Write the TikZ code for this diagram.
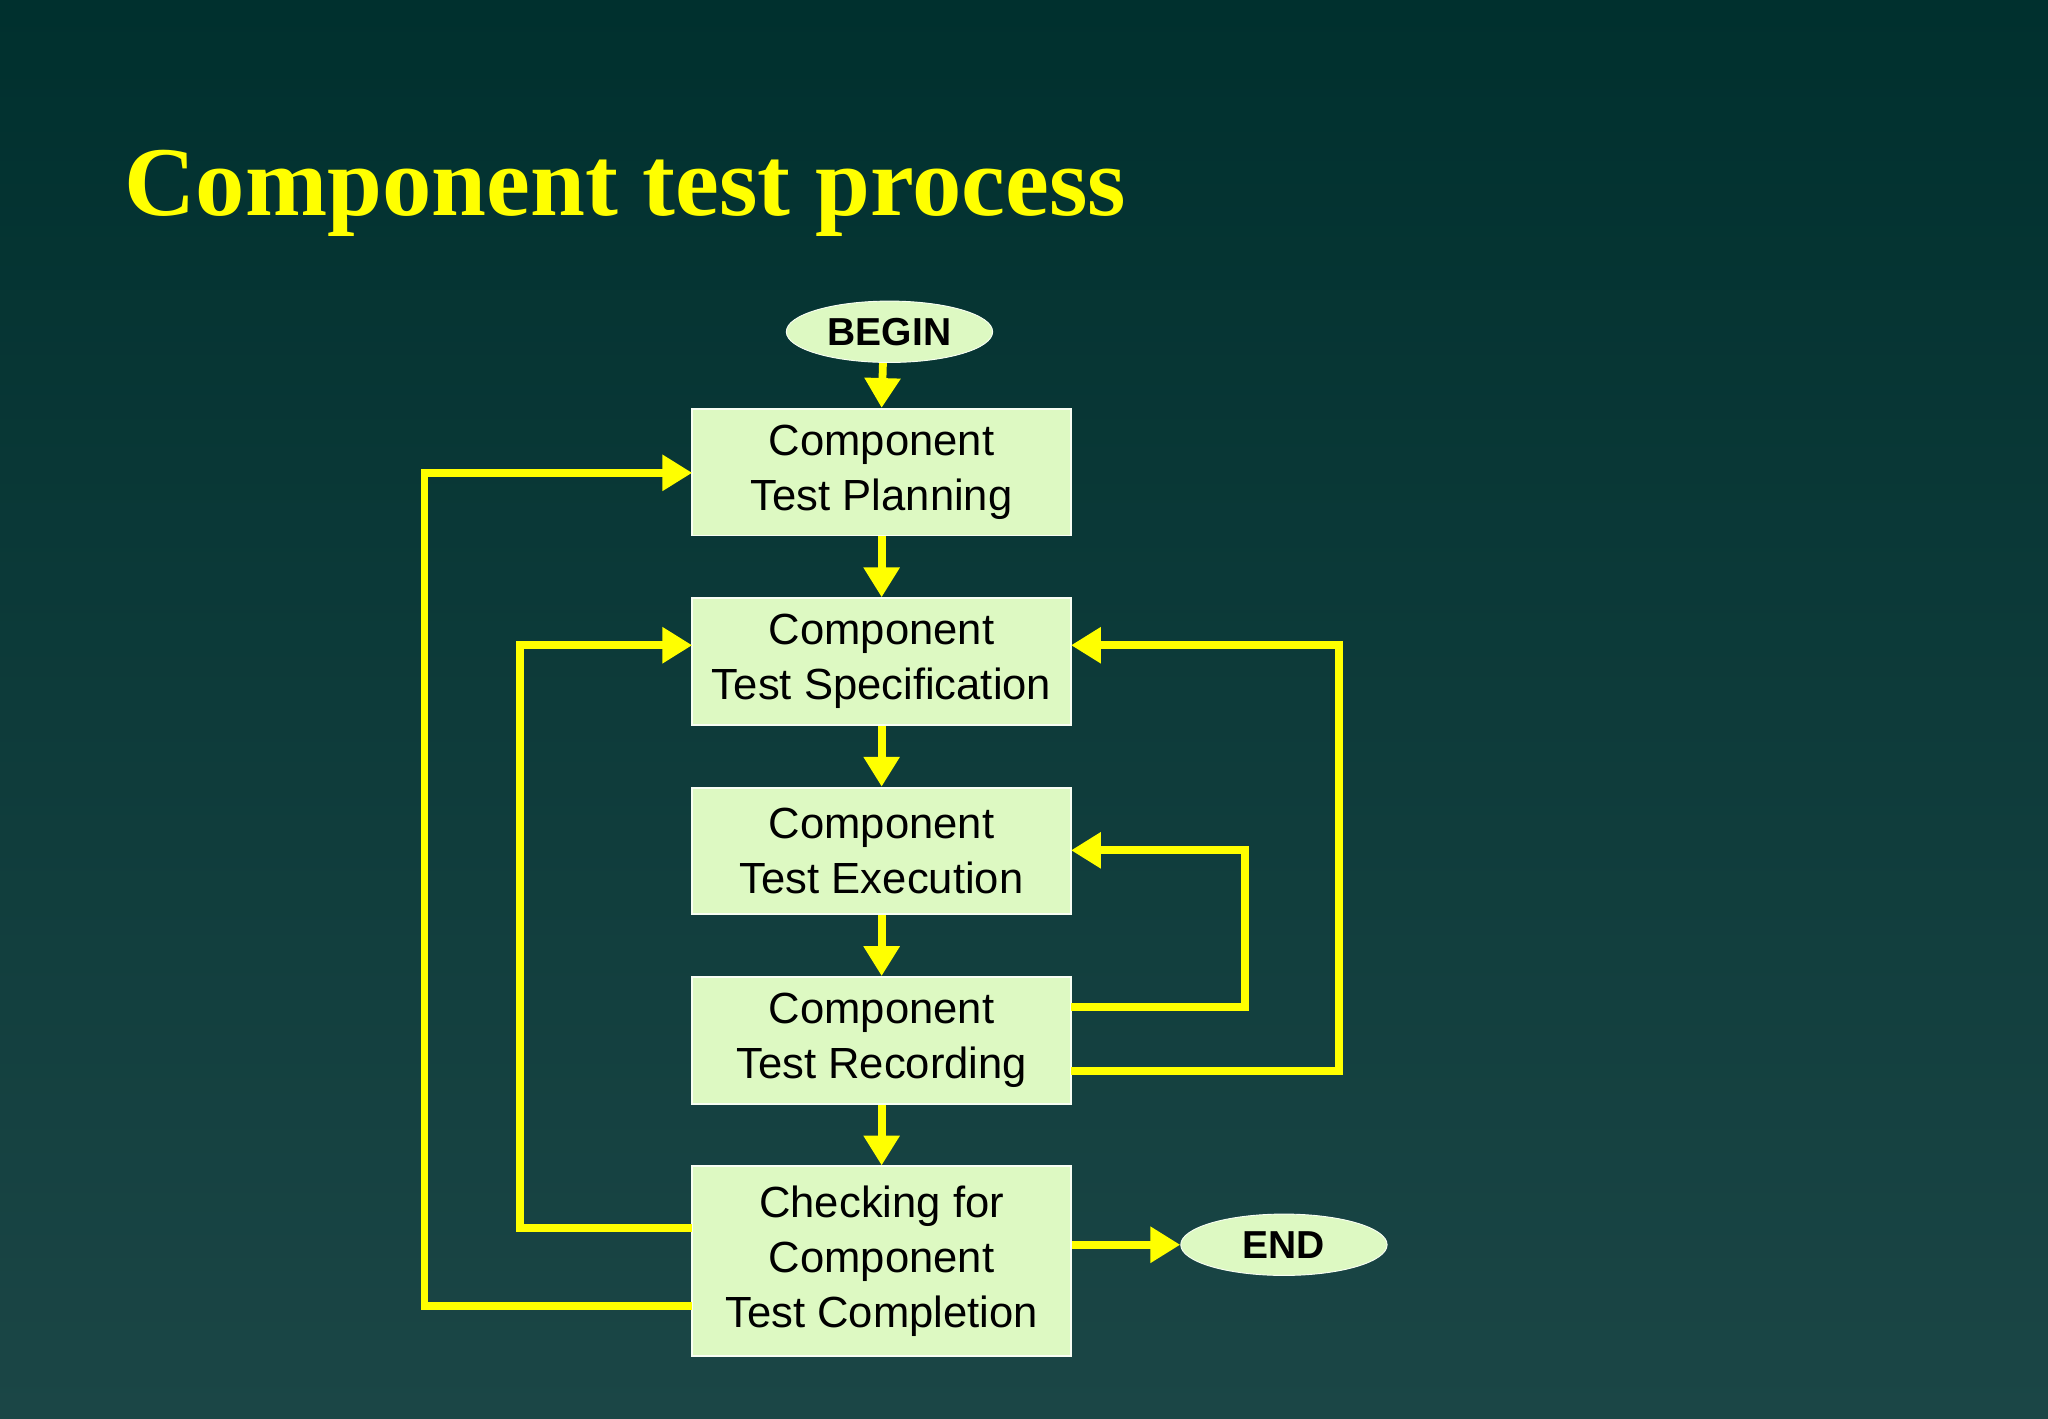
\documentclass[tikz,border=0pt]{standalone}
\usepackage{fontspec}
\setmainfont{Liberation Sans}
\newfontfamily\titlefont{Liberation Serif}
\usetikzlibrary{shapes.geometric,arrows.meta}
\definecolor{boxfill}{HTML}{DDF9C2}
\definecolor{ylw}{HTML}{FFFF00}
\begin{document}
\begin{tikzpicture}[x=0.02cm,y=-0.02cm,
  box/.style={draw=white!80!boxfill,line width=0.8pt,fill=boxfill,minimum width=290*0.02cm,align=center,font=\fontsize{19}{24}\selectfont,inner sep=0pt},
  term/.style={ellipse,draw=white!80!boxfill,fill=boxfill,minimum width=158*0.02cm,minimum height=47*0.02cm,inner sep=0pt,font=\bfseries\fontsize{17}{20}\selectfont},
  link/.style={draw=ylw,line width=3.4pt,-{Triangle[length=13pt,width=15pt]}},
  loop/.style={link,rounded corners=0pt}]
\shade[top color={rgb,255:red,0;green,48;blue,46},bottom color={rgb,255:red,27;green,70;blue,70}] (0,0) rectangle (1568,1086);
\useasboundingbox (0,0) rectangle (1568,1086);
\node[anchor=base west,text=ylw,font=\titlefont\bfseries\fontsize{43}{48}\selectfont,inner sep=0pt] (title) at (95,165) {Component test process};
\node[term] (begin) at (681,254) {BEGIN};
\node[box,minimum height=97*0.02cm] (b1) at (675,361.5) {Component\\Test Planning};
\node[box,minimum height=97*0.02cm] (b2) at (675,506.5) {Component\\Test Specification};
\node[box,minimum height=97*0.02cm] (b3) at (675,651.5) {Component\\Test Execution};
\node[box,minimum height=97*0.02cm] (b4) at (675,796.5) {Component\\Test Recording};
\node[box,minimum height=145*0.02cm] (b5) at (675,965.5) {Checking for\\Component\\Test Completion};
\node[term] (end) at (983,953) {END};
\draw[link] (676,278) -- (b1.north);
\draw[link] (b1) -- (b2);
\draw[link] (b2) -- (b3);
\draw[link] (b3) -- (b4);
\draw[link] (b4) -- (b5);
\draw[link] (b5.east |- end) -- (end);
\coordinate (l1a) at (530,1000); \coordinate (l1b) at (530,362);
\draw[loop] (l1a) -- (325,1000) -- (325,362) -- (l1b);
\coordinate (l2a) at (530,940); \coordinate (l2b) at (530,494);
\draw[loop] (l2a) -- (398,940) -- (398,494) -- (l2b);
\coordinate (r1a) at (820,820); \coordinate (r1b) at (820,494);
\draw[loop] (r1a) -- (1025,820) -- (1025,494) -- (r1b);
\coordinate (r2a) at (820,771); \coordinate (r2b) at (820,651);
\draw[loop] (r2a) -- (953,771) -- (953,651) -- (r2b);
\end{tikzpicture}
\end{document}
